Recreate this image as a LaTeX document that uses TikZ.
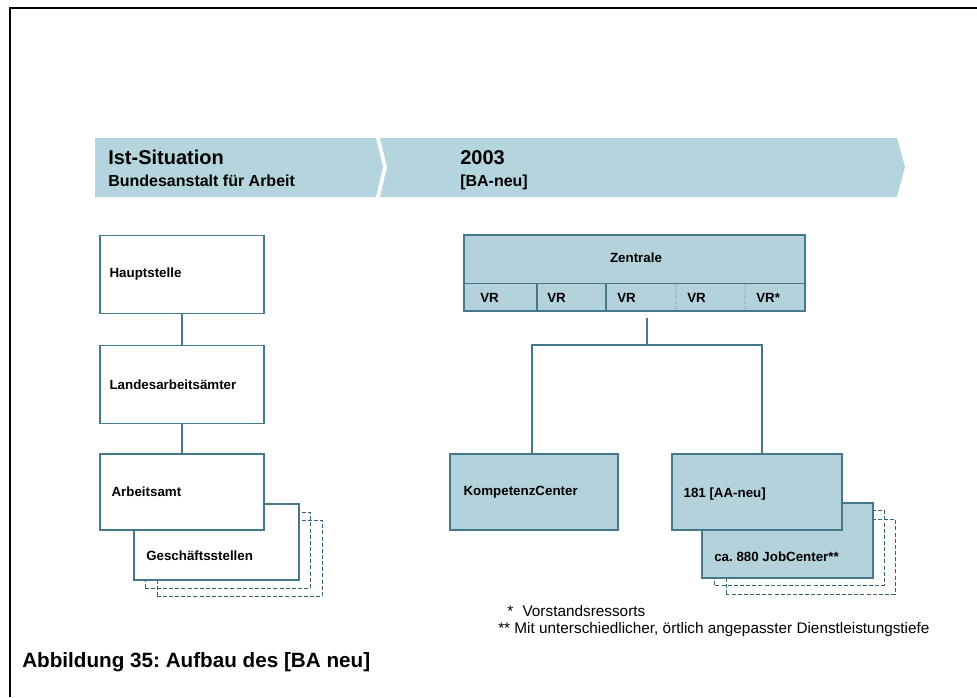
\documentclass[tikz,border=0pt]{standalone}
\usepackage{fontspec}
\setmainfont{Liberation Sans}
\usetikzlibrary{calc, positioning}
\definecolor{bandblue}{RGB}{180,212,222}
\definecolor{boxblue}{RGB}{179,210,220}
\definecolor{edgeblue}{RGB}{70,120,140}
\definecolor{dashblue}{RGB}{50,100,118}
\frenchspacing

\begin{document}
\begin{tikzpicture}[x=0.75pt, y=-0.75pt,
    orgbox/.style={draw=edgeblue, line width=1pt, fill=white, minimum width=123pt, minimum height=58.5pt, inner sep=0pt},
    bluebox/.style={orgbox, fill=boxblue, minimum height=57pt},
    stackline/.style={draw=dashblue, line width=0.75pt, dash pattern=on 3pt off 1.6pt},
    link/.style={draw=edgeblue, line width=0.9pt},
    boxtext/.style={font=\fontsize{10}{12}\selectfont\bfseries, inner sep=0pt},
    bandtitle/.style={font=\fontsize{15}{18}\selectfont\bfseries, inner sep=0pt, anchor=base west},
    bandsub/.style={font=\fontsize{12}{14}\selectfont\bfseries, inner sep=0pt, anchor=base west},
    fntext/.style={font=\fontsize{11.5}{14}\selectfont, inner sep=0pt, anchor=base west}]
    \useasboundingbox (0,0) rectangle (977,697);

    % Frame
    \draw[line width=1.5pt] (10,697) -- (10,8) -- (977,8);

    % Banner
    \fill[bandblue] (95,138) -- (376,138) -- (383,167) -- (376,197) -- (95,197) -- cycle;
    \fill[bandblue] (380,138) -- (897,138) -- (905,167) -- (897,197) -- (380,197) -- (387,167) -- cycle;
    \node[bandtitle] (ist) at (108,164) {Ist-Situation};
    \node[bandsub] (ba) at (108,186) {Bundesanstalt für Arbeit};
    \node[bandtitle] (jahr) at (460,164) {2003};
    \node[bandsub] (baneu) at (460,186) {[BA-neu]};

    % Ist-Situation
    \node[orgbox] (haupt) at (182,274.5) {};
    \node[boxtext, right=7.5pt of haupt.west] (haupttxt) {Hauptstelle};
    \node[orgbox] (landes) at (182,384.5) {};
    \node[boxtext, right=7.5pt of landes.west] (landestxt) {Landesarbeitsämter};
    \draw[stackline] ($(216.5,542)+(-82.5+11,38+8)$) rectangle ($(216.5,542)+(82.5+11,-38+8)$);
    \draw[stackline] ($(216.5,542)+(-82.5+23,38+16)$) rectangle ($(216.5,542)+(82.5+23,-38+16)$);
    \node[orgbox, minimum width=123.75pt, minimum height=57pt] (gst) at (216.5,542) {};
    \node[boxtext, right=9.5pt of gst.west, yshift=-10.5pt] (gsttxt) {Geschäftsstellen};
    \node[orgbox, minimum height=57pt] (amt) at (182,492) {};
    \node[boxtext, right=9pt of amt.west] (amttxt) {Arbeitsamt};
    \draw[link] (haupt) -- (landes);
    \draw[link] (landes) -- (amt);

    % BA-neu
    \node[bluebox, minimum width=255.75pt] (zentrale) at (634.5,273) {};
    \node[boxtext] (zentxt) at (636,258) {Zentrale};
    \draw[link] ($(zentrale.south west)+(0,-28)$) -- ($(zentrale.south east)+(0,-28)$);
    \foreach \x in {537,606}
        \draw[link] (\x,283) -- (\x,311);
    \foreach \x in {676,745}
        \draw[edgeblue!55, line width=0.8pt, densely dotted] (\x,284) -- (\x,310);
    \foreach \x/\t [count=\i] in {480/VR, 547/VR, 617/VR, 687/VR, 756/VR*}
        \node[boxtext, anchor=base west] (vr\i) at (\x,302) {\t};

    \node[bluebox, minimum width=126pt] (kompetenz) at (534,492) {};
    \node[boxtext, right=10.5pt of kompetenz.west] (komptxt) {KompetenzCenter};
    \draw[stackline] ($(787.5,540.5)+(-85.5+12,37.5+7)$) rectangle ($(787.5,540.5)+(85.5+11,-37.5+7)$);
    \draw[stackline] ($(787.5,540.5)+(-85.5+24,37.5+16)$) rectangle ($(787.5,540.5)+(85.5+22,-37.5+16)$);
    \node[bluebox, minimum width=128.25pt, minimum height=56.25pt] (job) at (787.5,540.5) {};
    \node[boxtext, right=9.5pt of job.west, yshift=-12pt] (jobtxt) {ca. 880 JobCenter**};
    \node[bluebox, minimum width=127.5pt] (aaneu) at (757,492) {};
    \node[boxtext, right=9pt of aaneu.west, yshift=-1.5pt] (aaneutxt) {181 [AA-neu]};

    \coordinate (fork) at (647,345);
    \draw[link] ($(fork |- zentrale.south)+(0,6)$) -- (fork);
    \draw[link] ([xshift=-1.5pt]kompetenz.north) |- (fork) -| ([xshift=3.75pt]aaneu.north);

    % Footnotes
    \node[fntext] (fn1) at (507,616) {*\hspace{7pt}Vorstandsressorts};
    \node[fntext] (fn2) at (498,633) {** Mit unterschiedlicher, örtlich angepasster Dienstleistungstiefe};

    % Caption
    \node[font=\fontsize{15.5}{18}\selectfont\bfseries, inner sep=0pt, anchor=base west] (caption) at (22,667) {Abbildung 35: Aufbau des [BA neu]};
\end{tikzpicture}
\end{document}
